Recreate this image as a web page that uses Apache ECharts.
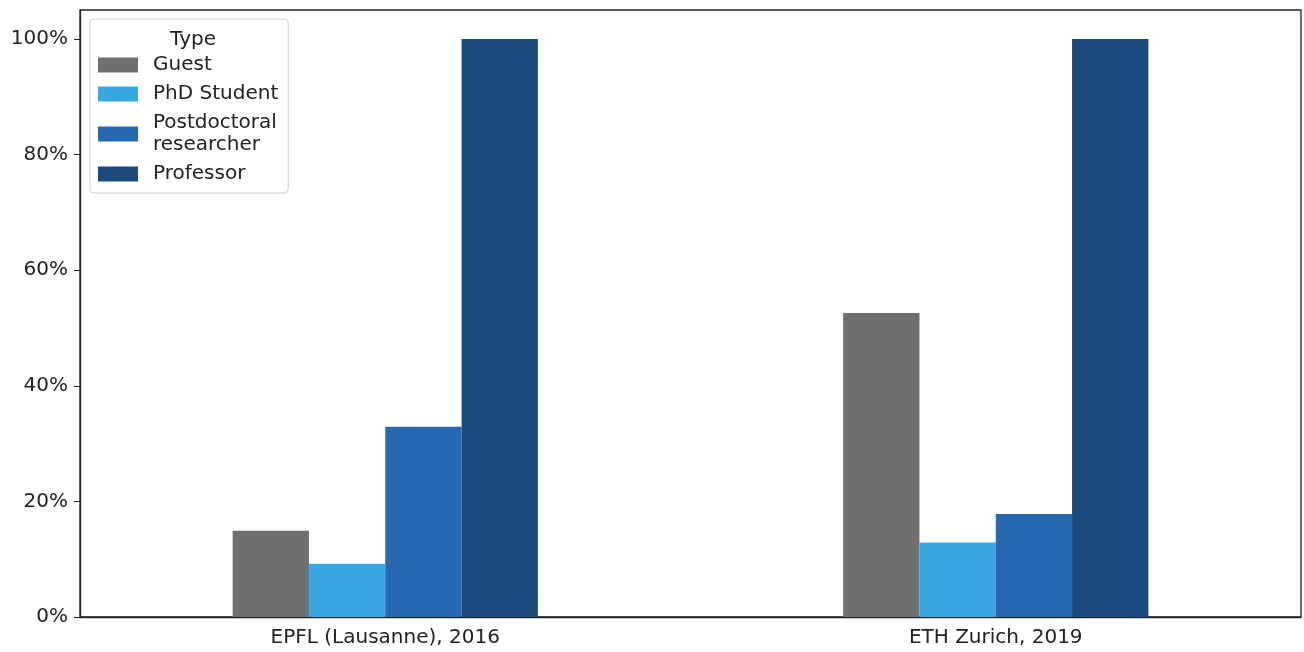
<!DOCTYPE html>
<html>
<head>
<meta charset="utf-8">
<script src="https://cdn.jsdelivr.net/npm/echarts@6/dist/echarts.min.js"></script>
<style>
html,body{margin:0;padding:0;background:#fff;}
#chart{width:1304px;height:652px;}
</style>
</head>
<body>
<div id="chart"></div>
<script>
const categories = ['EPFL (Lausanne), 2016', 'ETH Zurich, 2019'];
const seriesNames = ['Guest', 'PhD Student', 'Postdoctoral researcher', 'Professor'];
const guest = [14.9, 52.6];
const phdStudent = [9.2, 12.9];
const postdoc = [32.9, 17.8];
const professor = [100, 100];
const yTicks = [0, 20, 40, 60, 80, 100];
const colors = ['#6f6e70', '#37a8e0', '#2769b0', '#1b4a7c'];
const values = [guest, phdStudent, postdoc, professor];

const font = 'DejaVu Sans';
const chart = echarts.init(document.getElementById('chart'));
chart.setOption({
  animation: false,
  backgroundColor: '#fff',
  title: {
    text: 'Type',
    left: 188, top: 25, textAlign: 'center',
    textStyle: {fontFamily: font, fontSize: 20, fontWeight: 'normal', color: '#222'},
    z: 20
  },
  legend: {
    orient: 'vertical',
    left: 90, top: 19,
    padding: [35, 10, 8, 8],
    itemGap: 7,
    itemWidth: 40, itemHeight: 15,
    backgroundColor: 'rgba(255,255,255,0.85)',
    borderColor: '#d0d0d0', borderWidth: 1, borderRadius: 4,
    icon: 'rect',
    data: seriesNames,
    formatter: n => n === 'Postdoctoral researcher' ? 'Postdoctoral\nresearcher' : n,
    textStyle: {fontFamily: font, fontSize: 20, color: '#222', lineHeight: 22, padding: [0, 0, 0, 10]},
    z: 10
  },
  grid: {
    left: 80, right: 3, top: 10, bottom: 35,
    show: true, borderColor: '#222', borderWidth: 1.3, backgroundColor: 'transparent'
  },
  xAxis: {
    type: 'category',
    data: categories,
    axisLine: {lineStyle: {color: '#222', width: 1.3}},
    axisTick: {alignWithLabel: true, length: 6, lineStyle: {color: '#222'}},
    axisLabel: {fontFamily: font, fontSize: 20, color: '#222', margin: 11}
  },
  yAxis: {
    type: 'value',
    min: 0, max: 105, interval: 20,
    splitLine: {show: false},
    axisLine: {show: true, lineStyle: {color: '#222', width: 1.3}},
    axisTick: {show: true, length: 6, lineStyle: {color: '#222'}, customValues: yTicks},
    axisLabel: {
      fontFamily: font, fontSize: 20, color: '#222', margin: 12,
      customValues: yTicks,
      formatter: v => yTicks.includes(v) ? v + '%' : ''
    }
  },
  series: seriesNames.map((name, i) => ({
    name: name,
    type: 'bar',
    data: values[i],
    barGap: '0%',
    barCategoryGap: '50%',
    itemStyle: {color: colors[i]}
  }))
});
</script>
</body>
</html>
